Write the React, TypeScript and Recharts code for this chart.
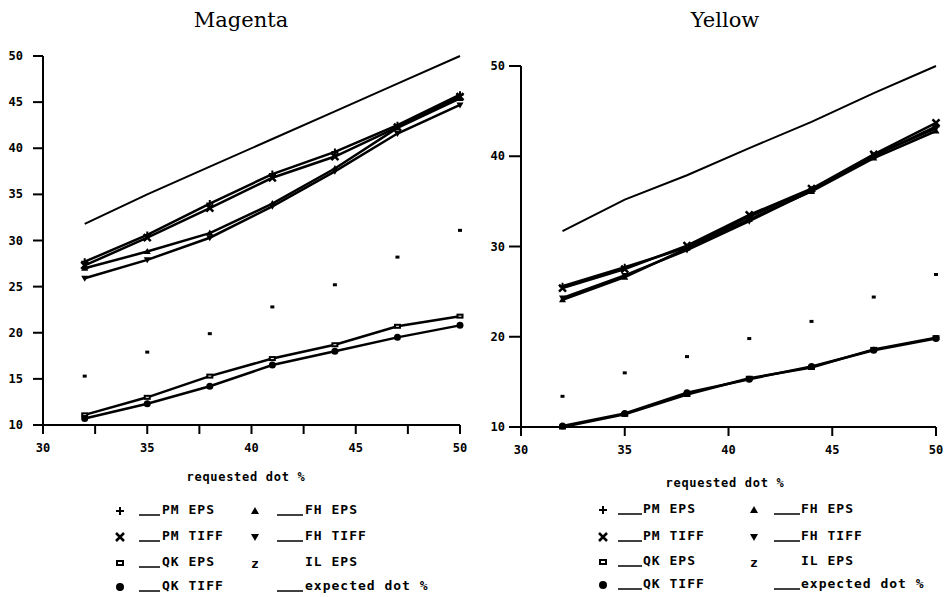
import React from "react";
import { LineChart, Line, XAxis, YAxis } from "recharts";

// requested dot % (x)
const requested = [32, 35, 38, 41, 44, 47, 50];

// Magenta
const magExpected = [31.8, 35, 38, 41, 44, 47, 50];
const magPmEps = [27.7, 30.6, 34.0, 37.2, 39.6, 42.5, 45.8];
const magPmTiff = [27.3, 30.3, 33.5, 36.8, 39.1, 42.3, 45.6];
const magFhEps = [27.0, 28.8, 30.8, 34.0, 37.8, 42.2, 45.4];
const magFhTiff = [25.9, 27.9, 30.3, 33.7, 37.5, 41.6, 44.7];
const magQkEps = [11.1, 13.0, 15.3, 17.2, 18.7, 20.7, 21.8];
const magQkTiff = [10.7, 12.3, 14.2, 16.5, 18.0, 19.5, 20.8];
const magIlEps = [15.3, 17.9, 19.9, 22.8, 25.2, 28.2, 31.1];

// Yellow
const yelExpected = [31.7, 35.2, 37.9, 40.9, 43.8, 47.0, 50];
const yelPmEps = [25.6, 27.7, 29.9, 33.3, 36.3, 40.0, 43.3];
const yelPmTiff = [25.4, 27.5, 30.1, 33.5, 36.4, 40.2, 43.7];
const yelFhEps = [24.1, 26.6, 29.8, 33.0, 36.1, 39.8, 42.8];
const yelFhTiff = [24.3, 26.8, 29.6, 32.8, 36.2, 40.1, 43.1];
const yelQkEps = [10.0, 11.4, 13.6, 15.4, 16.6, 18.6, 19.9];
const yelQkTiff = [10.1, 11.5, 13.8, 15.3, 16.7, 18.5, 19.8];
const yelIlEps = [13.4, 16.0, 17.8, 19.8, 21.7, 24.4, 26.9];

const magXTicks = [30, 32.5, 35, 37.5, 40, 42.5, 45, 47.5, 50];
const yelXTicks = [30, 35, 40, 45, 50];
const magYTicks = [10, 15, 20, 25, 30, 35, 40, 45, 50];
const yelYTicks = [10, 20, 30, 40, 50];

const magData = requested.map((x, i) => ({
    x,
    pmEps: magPmEps[i],
    pmTiff: magPmTiff[i],
    fhEps: magFhEps[i],
    fhTiff: magFhTiff[i],
    qkEps: magQkEps[i],
    qkTiff: magQkTiff[i],
    ilEps: magIlEps[i],
    expected: magExpected[i],
}));

const yelData = requested.map((x, i) => ({
    x,
    pmEps: yelPmEps[i],
    pmTiff: yelPmTiff[i],
    fhEps: yelFhEps[i],
    fhTiff: yelFhTiff[i],
    qkEps: yelQkEps[i],
    qkTiff: yelQkTiff[i],
    ilEps: yelIlEps[i],
    expected: yelExpected[i],
}));

const mono = "'DejaVu Sans Mono', monospace";

type Kind = "plus" | "cross" | "square" | "circle" | "up" | "down" | "il" | "none";

const Symbol = ({ kind, cx, cy, s }: { kind: Kind; cx: number; cy: number; s: number }) => {
    switch (kind) {
        case "plus":
            return <path d={`M${cx - s},${cy}H${cx + s}M${cx},${cy - s}V${cy + s}`} stroke="#000" strokeWidth={2} />;
        case "cross":
            return (
                <path
                    d={`M${cx - s},${cy - s}L${cx + s},${cy + s}M${cx + s},${cy - s}L${cx - s},${cy + s}`}
                    stroke="#000"
                    strokeWidth={2.5}
                />
            );
        case "square":
            return <rect x={cx - s + 1} y={cy - s + 2} width={2 * s - 2} height={2 * s - 4} fill="#fff" stroke="#000" strokeWidth={2} />;
        case "circle":
            return <circle cx={cx} cy={cy} r={s} fill="#000" />;
        case "up":
            return <path d={`M${cx},${cy - s}L${cx + s},${cy + s - 1}L${cx - s},${cy + s - 1}Z`} fill="#000" />;
        case "down":
            return <path d={`M${cx - s},${cy - s + 1}L${cx + s},${cy - s + 1}L${cx},${cy + s}Z`} fill="#000" />;
        case "il":
            return <rect x={cx - 2} y={cy - 1.5} width={4} height={3} fill="#000" />;
        default:
            return null;
    }
};

const makeDot = (kind: Kind) => (props: any) => {
    const { cx, cy, index } = props;
    return (
        <g key={`${kind}-${index}`}>
            <Symbol kind={kind} cx={cx} cy={cy} s={3.5} />
        </g>
    );
};

const series: { key: string; kind: Kind; line: boolean }[] = [
    { key: "expected", kind: "none", line: true },
    { key: "pmEps", kind: "plus", line: true },
    { key: "pmTiff", kind: "cross", line: true },
    { key: "fhEps", kind: "up", line: true },
    { key: "fhTiff", kind: "down", line: true },
    { key: "qkEps", kind: "square", line: true },
    { key: "qkTiff", kind: "circle", line: true },
    { key: "ilEps", kind: "il", line: false },
];

const XTick = (props: any) => {
    const { x, y, payload } = props;
    const v = payload.value;
    if (v % 5 !== 0) return <g />;
    return (
        <text x={x} y={y + 9} textAnchor="middle" fontFamily={mono} fontSize={12} fontWeight="bold" fill="#000">
            {v}
        </text>
    );
};

const YTick = (props: any) => {
    const { x, y, payload } = props;
    return (
        <text x={x} y={y + 4} textAnchor="end" fontFamily={mono} fontSize={12} fontWeight="bold" fill="#000">
            {payload.value}
        </text>
    );
};

const Panel = ({
    data,
    xTicks,
    yTicks,
    width,
    height,
    top,
    yAxisWidth,
    ySize,
    yMargin,
}: {
    data: any[];
    xTicks: number[];
    yTicks: number[];
    width: number;
    height: number;
    top: number;
    yAxisWidth: number;
    ySize: number;
    yMargin: number;
}) => (
    <LineChart width={width} height={height} data={data} margin={{ top, right: 10, bottom: 0, left: 0 }}>
        <XAxis
            type="number"
            dataKey="x"
            domain={[30, 50]}
            ticks={xTicks}
            interval={0}
            height={45}
            tickSize={9}
            tickMargin={9}
            tick={<XTick />}
            axisLine={{ stroke: "#000", strokeWidth: 2 }}
            tickLine={{ stroke: "#000", strokeWidth: 2 }}
        />
        <YAxis
            type="number"
            domain={[10, 50]}
            ticks={yTicks}
            interval={0}
            width={yAxisWidth}
            tickSize={ySize}
            tickMargin={yMargin}
            tick={<YTick />}
            axisLine={{ stroke: "#000", strokeWidth: 2 }}
            tickLine={{ stroke: "#000", strokeWidth: 2 }}
        />
        {series.map((s) => (
            <Line
                key={s.key}
                dataKey={s.key}
                type="linear"
                stroke={s.line ? "#000" : "none"}
                strokeWidth={s.key === "expected" ? 2 : 2.5}
                dot={s.kind === "none" ? false : makeDot(s.kind)}
                activeDot={false}
                isAnimationActive={false}
            />
        ))}
    </LineChart>
);

const legendRows: { kind: Kind; line: boolean; label: string }[][] = [
    [
        { kind: "plus", line: true, label: "PM EPS" },
        { kind: "up", line: true, label: "FH EPS" },
    ],
    [
        { kind: "cross", line: true, label: "PM TIFF" },
        { kind: "down", line: true, label: "FH TIFF" },
    ],
    [
        { kind: "square", line: true, label: "QK EPS" },
        { kind: "il", line: false, label: "IL EPS" },
    ],
    [
        { kind: "circle", line: true, label: "QK TIFF" },
        { kind: "none", line: true, label: "expected dot %" },
    ],
];

const LegendBlock = ({ rowsY, cols }: { rowsY: number[]; cols: { sym: number; l0: number; l1: number; text: number }[] }) => (
    <>
        {legendRows.map((row, r) =>
            row.map((item, c) => {
                const col = cols[c];
                const y = rowsY[r];
                return (
                    <React.Fragment key={`${r}-${c}`}>
                        <svg
                            width={col.text - col.sym + 10}
                            height={16}
                            style={{ position: "absolute", left: col.sym - 8, top: y - 8 }}
                        >
                            {item.kind !== "none" && item.kind !== "il" && <Symbol kind={item.kind} cx={8} cy={8} s={4} />}
                            {item.kind === "il" && (
                                <text x={8} y={13} textAnchor="middle" fontFamily={mono} fontWeight="bold" fontSize={13}>
                                    z
                                </text>
                            )}
                            {item.line && (
                                <line x1={col.l0 - col.sym + 8} x2={col.l1 - col.sym + 8} y1={12} y2={12} stroke="#000" strokeWidth={1.5} />
                            )}
                        </svg>
                        <div
                            style={{
                                position: "absolute",
                                left: col.text,
                                top: y - 9,
                                fontFamily: mono,
                                fontWeight: "bold",
                                fontSize: 13,
                                letterSpacing: 1,
                                lineHeight: "16px",
                                whiteSpace: "nowrap",
                            }}
                        >
                            {item.label}
                        </div>
                    </React.Fragment>
                );
            })
        )}
    </>
);

const titleStyle: React.CSSProperties = {
    position: "absolute",
    top: 6,
    fontFamily: "'DejaVu Serif', serif",
    fontSize: 21,
    width: 200,
    textAlign: "center",
    lineHeight: "28px",
};

const axisTitleStyle: React.CSSProperties = {
    position: "absolute",
    width: 200,
    textAlign: "center",
    fontFamily: mono,
    fontWeight: "bold",
    fontSize: 12,
    letterSpacing: 0.7,
    lineHeight: "16px",
};

export default function App() {
    return (
        <div style={{ position: "absolute", left: 0, top: 0, width: 946, height: 597, background: "#fff", overflow: "hidden" }}>
            <div style={{ ...titleStyle, left: 141 }}>Magenta</div>
            <div style={{ ...titleStyle, left: 625 }}>Yellow</div>

            <div style={{ position: "absolute", left: 0, top: 0 }}>
                <Panel data={magData} xTicks={magXTicks} yTicks={magYTicks} width={470} height={470} top={56} yAxisWidth={43} ySize={10} yMargin={10} />
            </div>
            <div style={{ position: "absolute", left: 470, top: 0 }}>
                <Panel data={yelData} xTicks={yelXTicks} yTicks={yelYTicks} width={476} height={472} top={66} yAxisWidth={51} ySize={12} yMargin={4} />
            </div>

            <div style={{ ...axisTitleStyle, left: 146, top: 469 }}>requested dot %</div>
            <div style={{ ...axisTitleStyle, left: 625, top: 475 }}>requested dot %</div>

            <LegendBlock
                rowsY={[511, 537, 563, 587]}
                cols={[
                    { sym: 120, l0: 139, l1: 160, text: 162 },
                    { sym: 255, l0: 277, l1: 303, text: 305 },
                ]}
            />
            <LegendBlock
                rowsY={[510, 537, 562, 585]}
                cols={[
                    { sym: 603, l0: 618, l1: 642, text: 643 },
                    { sym: 754, l0: 774, l1: 800, text: 801 },
                ]}
            />
        </div>
    );
}
